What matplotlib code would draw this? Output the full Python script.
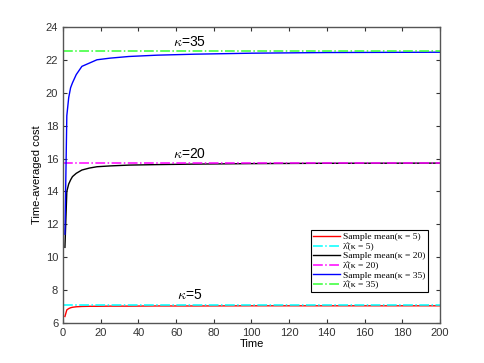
import matplotlib

matplotlib.use("Agg")

import matplotlib.pyplot as plt

plt.rcParams["font.family"] = ["Liberation Sans", "DejaVu Sans"]
plt.rcParams["mathtext.fontset"] = "cm"

# time points (sparse, the line joins them)
time = [1, 2, 3, 4, 5, 7, 10, 14, 18, 25, 35, 50, 70, 100, 140, 200]
mean_k5 = [6.40, 6.80, 6.88, 6.93, 6.96, 6.99, 7.01, 7.02, 7.02, 7.03, 7.03, 7.04, 7.04, 7.05, 7.05, 7.05]
mean_k20 = [10.60, 14.00, 14.45, 14.70, 14.90, 15.10, 15.30, 15.42, 15.50, 15.55, 15.60, 15.63, 15.66, 15.69, 15.71, 15.72]
mean_k35 = [11.40, 18.60, 19.70, 20.30, 20.60, 21.10, 21.60, 21.80, 22.00, 22.10, 22.20, 22.28, 22.34, 22.40, 22.44, 22.46]
lam_k5 = 7.08
lam_k20 = 15.75
lam_k35 = 22.55
t_range = [0, 200]

fig = plt.figure(figsize=(4.85, 3.63), dpi=100)
ax = fig.add_axes([0.130, 0.110, 0.777, 0.816])

ax.plot(time, mean_k5, color="red", lw=1.0, label="Sample mean(κ = 5)")
ax.plot(t_range, [lam_k5, lam_k5], color="cyan", lw=1.1, ls="-.", label="λ\u0302(κ = 5)")
ax.plot(time, mean_k20, color="black", lw=1.0, label="Sample mean(κ = 20)")
ax.plot(t_range, [lam_k20, lam_k20], color="magenta", lw=1.1, ls="-.", label="λ\u0302(κ = 20)")
ax.plot(time, mean_k35, color="blue", lw=1.0, label="Sample mean(κ = 35)")
ax.plot(t_range, [lam_k35, lam_k35], color="#33ff33", lw=1.1, ls="-.", label="λ\u0302(κ = 35)")

# kappa annotations
ax.text(67, lam_k35 + 0.1, r"$\kappa$=35", ha="center", va="bottom", fontsize=10)
ax.text(67, lam_k20 + 0.1, r"$\kappa$=20", ha="center", va="bottom", fontsize=10)
ax.text(67, lam_k5 + 0.2, r"$\kappa$=5", ha="center", va="bottom", fontsize=10)

ax.set_xlim(0, 200)
ax.set_ylim(6, 24)
ax.set_xticks(range(0, 201, 20))
ax.set_yticks(range(6, 25, 2))
ax.tick_params(direction="in", top=True, right=True, labelsize=8, length=3,
               colors="#333333", labelcolor="#333333")
for sp in ax.spines.values():
    sp.set_color("#555555")
    sp.set_linewidth(1.0)

ax.set_xlabel("Time", fontsize=8, labelpad=1)
ax.set_ylabel("Time-averaged cost", fontsize=8, labelpad=3)

leg = ax.legend(loc="lower right", bbox_to_anchor=(0.968, 0.105), borderaxespad=0,
                prop={"family": ["Liberation Serif", "DejaVu Serif"], "size": 6.8},
                fancybox=False, framealpha=1, edgecolor="black",
                handlelength=2.8, labelspacing=0.1, borderpad=0.3, handletextpad=0.3)
leg.get_frame().set_linewidth(0.8)

fig.savefig("out.png", dpi=100)
